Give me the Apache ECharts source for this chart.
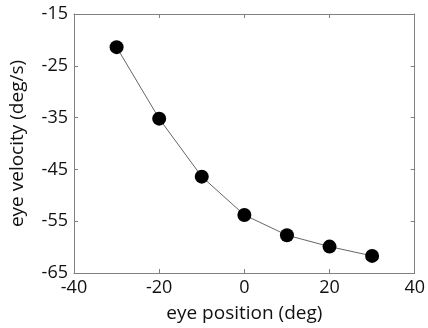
<!DOCTYPE html>
<html>
<head>
<meta charset="utf-8">
<script src="https://cdn.jsdelivr.net/npm/echarts@6/dist/echarts.min.js"></script>
<style>
html, body { margin: 0; padding: 0; background: #fff; }
#chart { width: 428px; height: 328px; }
</style>
</head>
<body>
<div id="chart"></div>
<script>
// eye position (deg) vs eye velocity (deg/s)
var eyePosition = [-30, -20, -10, 0, 10, 20, 30];
var eyeVelocity = [-21.4, -35.2, -46.4, -53.8, -57.7, -59.9, -61.7];

var points = [];
for (var i = 0; i < eyePosition.length; i++) {
    points.push([eyePosition[i], eyeVelocity[i]]);
}

var axisGray = '#808080';
var nameFont = { color: '#111', fontSize: 19, fontFamily: 'Open Sans' };
var tickFont = { color: '#111', fontSize: 18, fontFamily: 'Open Sans' };

var chart = echarts.init(document.getElementById('chart'));
chart.setOption({
    backgroundColor: '#fff',
    animation: false,
    grid: { left: 70, right: 11, top: 14, bottom: 50 },
    xAxis: [{
        type: 'value',
        min: -40, max: 40, interval: 20,
        name: 'eye position (deg)',
        nameLocation: 'middle',
        nameGap: 31,
        nameTextStyle: nameFont,
        axisLine: { show: true, onZero: false, lineStyle: { color: axisGray, width: 1 } },
        axisTick: { show: true, inside: true, length: 4, lineStyle: { color: axisGray } },
        axisLabel: Object.assign({ margin: 6 }, tickFont),
        splitLine: { show: false }
    }, {
        type: 'value',
        position: 'top',
        min: -40, max: 40, interval: 20,
        axisLine: { show: true, onZero: false, lineStyle: { color: axisGray, width: 1 } },
        axisTick: { show: true, inside: true, length: 4, lineStyle: { color: axisGray } },
        axisLabel: { show: false },
        splitLine: { show: false }
    }],
    yAxis: [{
        type: 'value',
        min: -65, max: -15, interval: 10,
        name: 'eye velocity (deg/s)',
        nameLocation: 'middle',
        nameGap: 47,
        nameTextStyle: nameFont,
        axisLine: { show: true, onZero: false, lineStyle: { color: axisGray, width: 1 } },
        axisTick: { show: true, inside: true, length: 4, lineStyle: { color: axisGray } },
        axisLabel: Object.assign({ margin: 6 }, tickFont),
        splitLine: { show: false }
    }, {
        type: 'value',
        position: 'right',
        min: -65, max: -15, interval: 10,
        axisLine: { show: true, onZero: false, lineStyle: { color: axisGray, width: 1 } },
        axisTick: { show: true, inside: true, length: 4, lineStyle: { color: axisGray } },
        axisLabel: { show: false },
        splitLine: { show: false }
    }],
    series: [{
        type: 'line',
        data: points,
        symbol: 'circle',
        symbolSize: 14,
        itemStyle: { color: '#000' },
        lineStyle: { color: '#666', width: 1 }
    }]
});
</script>
</body>
</html>
